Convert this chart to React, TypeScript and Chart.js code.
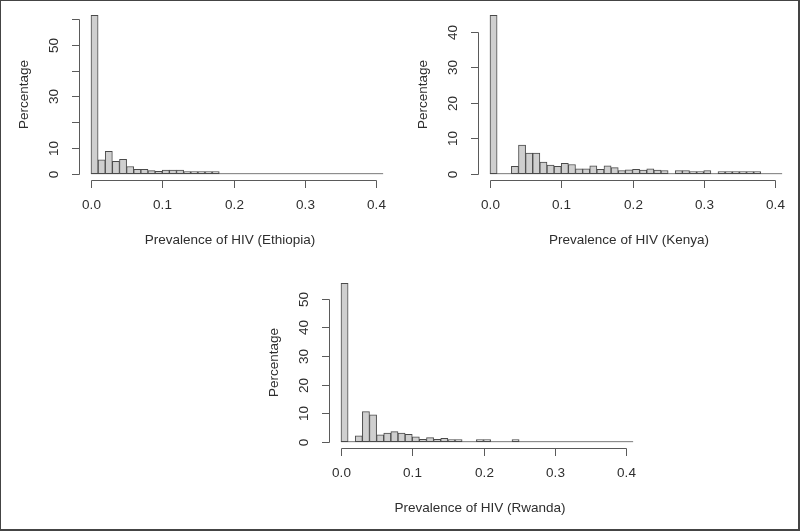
import React, { useEffect, useRef } from "react";
import { Chart, registerables } from "chart.js";

Chart.register(...registerables);

// ---------- data ----------
const BIN_WIDTH = 0.01;
const HIST_END = 0.41;

// percentage of districts per 0.01-wide prevalence bin (bins start at 0.00, 0.01, ... 0.40)
const ethiopiaPct = [
  61.5, 5.4, 8.7, 4.8, 5.6, 2.8, 1.7, 1.7, 1.2, 0.9,
  1.4, 1.4, 1.4, 0.8, 0.3, 0.2, 0.2, 0.2, 0, 0,
  0, 0, 0, 0, 0, 0, 0, 0, 0, 0,
  0, 0, 0, 0, 0, 0, 0, 0, 0, 0,
  0,
];
const kenyaPct = [
  44.7, 0, 0, 2.1, 8.1, 5.8, 5.8, 3.3, 2.4, 2.1,
  2.9, 2.6, 1.4, 1.4, 2.2, 1.2, 2.2, 1.7, 0.9, 1.1,
  1.2, 1.0, 1.4, 1.0, 0.9, 0, 0.9, 0.9, 0.2, 0.4,
  0.9, 0, 0.2, 0.2, 0.2, 0.2, 0.2, 0.2, 0, 0,
  0,
];
const rwandaPct = [
  55.4, 0, 2.0, 10.5, 9.4, 2.4, 3.0, 3.5, 3.0, 2.6,
  1.7, 0.8, 1.4, 0.8, 1.2, 0.3, 0.3, 0, 0, 0.3,
  0.3, 0, 0, 0, 0.4, 0, 0, 0, 0, 0,
  0, 0, 0, 0, 0, 0, 0, 0, 0, 0,
  0,
];

const xTicks = [0, 0.1, 0.2, 0.3, 0.4];
const xTickLabels = ["0.0", "0.1", "0.2", "0.3", "0.4"];

const ethiopiaYTicks = [0, 10, 20, 30, 40, 50, 60];
const ethiopiaYLabels = ["0", "10", "", "30", "", "50", ""];
const kenyaYTicks = [0, 10, 20, 30, 40];
const kenyaYLabels = ["0", "10", "20", "30", "40"];
const rwandaYTicks = [0, 10, 20, 30, 40, 50];
const rwandaYLabels = ["0", "10", "20", "30", "40", "50"];

const yTitle = "Percentage";
const ethiopiaTitle = "Prevalence of HIV (Ethiopia)";
const kenyaTitle = "Prevalence of HIV (Kenya)";
const rwandaTitle = "Prevalence of HIV (Rwanda)";

// ---------- styles ----------
const FONT = '13.5px "Liberation Sans", Arial, Helvetica, sans-serif';
const TEXT_COLOR = "#2e2e2e";
const AXIS_COLOR = "#5a5a5a";
const BAR_FILL = "#cfcfcf";
const BAR_BORDER = "#4a4a4a";
const BASE_COLOR = "#7a7a7a";
const TICK_LEN = 7.5;
const X_LABEL_GAP = 28;
const X_TITLE_GAP = 63;
const Y_LABEL_GAP = 22;
const Y_TITLE_GAP = 52;
const X_TITLE_SHIFT = -4;

type PanelProps = {
  values: number[];
  yTicks: number[];
  yLabels: string[];
  xTitle: string;
  left: number;
  top: number;
};

const CANVAS_W = 400;
const CANVAS_H = 265;
const PADDING = { left: 79.3, right: 12.3, top: 9, bottom: 85 };

function Panel({ values, yTicks, yLabels, xTitle, left, top }: PanelProps) {
  const ref = useRef<HTMLCanvasElement | null>(null);

  useEffect(() => {
    if (!ref.current) return;
    const ymax = Math.max(...values);
    const xRange = HIST_END;
    const bars = values.map((v, i) => ({
      x: i * BIN_WIDTH + BIN_WIDTH / 2,
      y: v === 0 ? null : v,
    }));

    const rAxes = {
      id: "rAxes",
      afterDraw(chart: any) {
        const ctx = chart.ctx as CanvasRenderingContext2D;
        const area = chart.chartArea;
        const xs = chart.scales.x;
        const ys = chart.scales.y;
        ctx.save();
        ctx.strokeStyle = AXIS_COLOR;
        ctx.lineWidth = 1;
        ctx.fillStyle = TEXT_COLOR;
        ctx.font = FONT;

        // x axis
        const yAx = Math.round(area.bottom) + 0.5;
        const xp = xTicks.map((t) => Math.round(xs.getPixelForValue(t)) + 0.5);
        ctx.beginPath();
        ctx.moveTo(xp[0], yAx);
        ctx.lineTo(xp[xp.length - 1], yAx);
        xp.forEach((p) => {
          ctx.moveTo(p, yAx);
          ctx.lineTo(p, yAx + TICK_LEN);
        });
        ctx.stroke();
        ctx.textAlign = "center";
        ctx.textBaseline = "alphabetic";
        xp.forEach((p, i) => ctx.fillText(xTickLabels[i], p, yAx + X_LABEL_GAP));
        ctx.fillText(xTitle, (xp[0] + xp[xp.length - 1]) / 2 + X_TITLE_SHIFT, yAx + X_TITLE_GAP);

        // y axis
        const xAx = Math.round(area.left) + 0.5;
        const yp = yTicks.map((t) => Math.round(ys.getPixelForValue(t)) + 0.5);
        ctx.beginPath();
        ctx.moveTo(xAx, yp[0]);
        ctx.lineTo(xAx, yp[yp.length - 1]);
        yp.forEach((p) => {
          ctx.moveTo(xAx, p);
          ctx.lineTo(xAx - TICK_LEN, p);
        });
        ctx.stroke();
        yp.forEach((p, i) => {
          if (!yLabels[i]) return;
          ctx.save();
          ctx.translate(xAx - Y_LABEL_GAP, p);
          ctx.rotate(-Math.PI / 2);
          ctx.fillText(yLabels[i], 0, 0);
          ctx.restore();
        });
        ctx.save();
        ctx.translate(xAx - Y_TITLE_GAP, (area.top + area.bottom) / 2);
        ctx.rotate(-Math.PI / 2);
        ctx.fillText(yTitle, 0, 0);
        ctx.restore();
        ctx.restore();
      },
    };

    const chart = new Chart(ref.current, {
      type: "bar",
      data: {
        datasets: [
          {
            type: "bar",
            data: bars as any,
            backgroundColor: BAR_FILL,
            borderColor: BAR_BORDER,
            borderWidth: 1,
            borderSkipped: false,
            barPercentage: 1,
            categoryPercentage: 1,
            minBarLength: 2,
            order: 1,
          } as any,
          {
            type: "line",
            data: [
              { x: 0, y: 0 },
              { x: HIST_END, y: 0 },
            ],
            borderColor: BASE_COLOR,
            borderWidth: 1,
            pointRadius: 0,
            order: 2,
          } as any,
        ],
      },
      options: {
        responsive: false,
        animation: false,
        devicePixelRatio: 1,
        layout: { padding: PADDING },
        plugins: { legend: { display: false }, tooltip: { enabled: false } },
        scales: {
          x: {
            type: "linear",
            display: false,
            offset: false,
            min: -0.04 * xRange,
            max: 0.4 + 0.04 * xRange,
          },
          y: {
            type: "linear",
            display: false,
            min: -0.04 * ymax,
            max: 1.04 * ymax,
          },
        },
      },
      plugins: [rAxes],
    });
    return () => chart.destroy();
  }, [values, yTicks, yLabels, xTitle]);

  return (
    <canvas
      ref={ref}
      width={CANVAS_W}
      height={CANVAS_H}
      style={{ position: "absolute", left, top, width: CANVAS_W, height: CANVAS_H }}
    />
  );
}

export default function App() {
  return (
    <div
      style={{
        position: "absolute",
        left: 0,
        top: 0,
        width: 800,
        height: 531,
        background: "#ffffff",
        overflow: "hidden",
      }}
    >
      <Panel values={ethiopiaPct} yTicks={ethiopiaYTicks} yLabels={ethiopiaYLabels} xTitle={ethiopiaTitle} left={0} top={0} />
      <Panel values={kenyaPct} yTicks={kenyaYTicks} yLabels={kenyaYLabels} xTitle={kenyaTitle} left={399} top={0} />
      <Panel values={rwandaPct} yTicks={rwandaYTicks} yLabels={rwandaYLabels} xTitle={rwandaTitle} left={250} top={268} />
      <div
        style={{
          position: "absolute",
          left: 0,
          top: 0,
          width: 800,
          height: 531,
          boxSizing: "border-box",
          borderTop: "1px solid #444",
          borderLeft: "1px solid #444",
          borderRight: "2px solid #444",
          borderBottom: "2px solid #444",
          pointerEvents: "none",
        }}
      />
    </div>
  );
}
